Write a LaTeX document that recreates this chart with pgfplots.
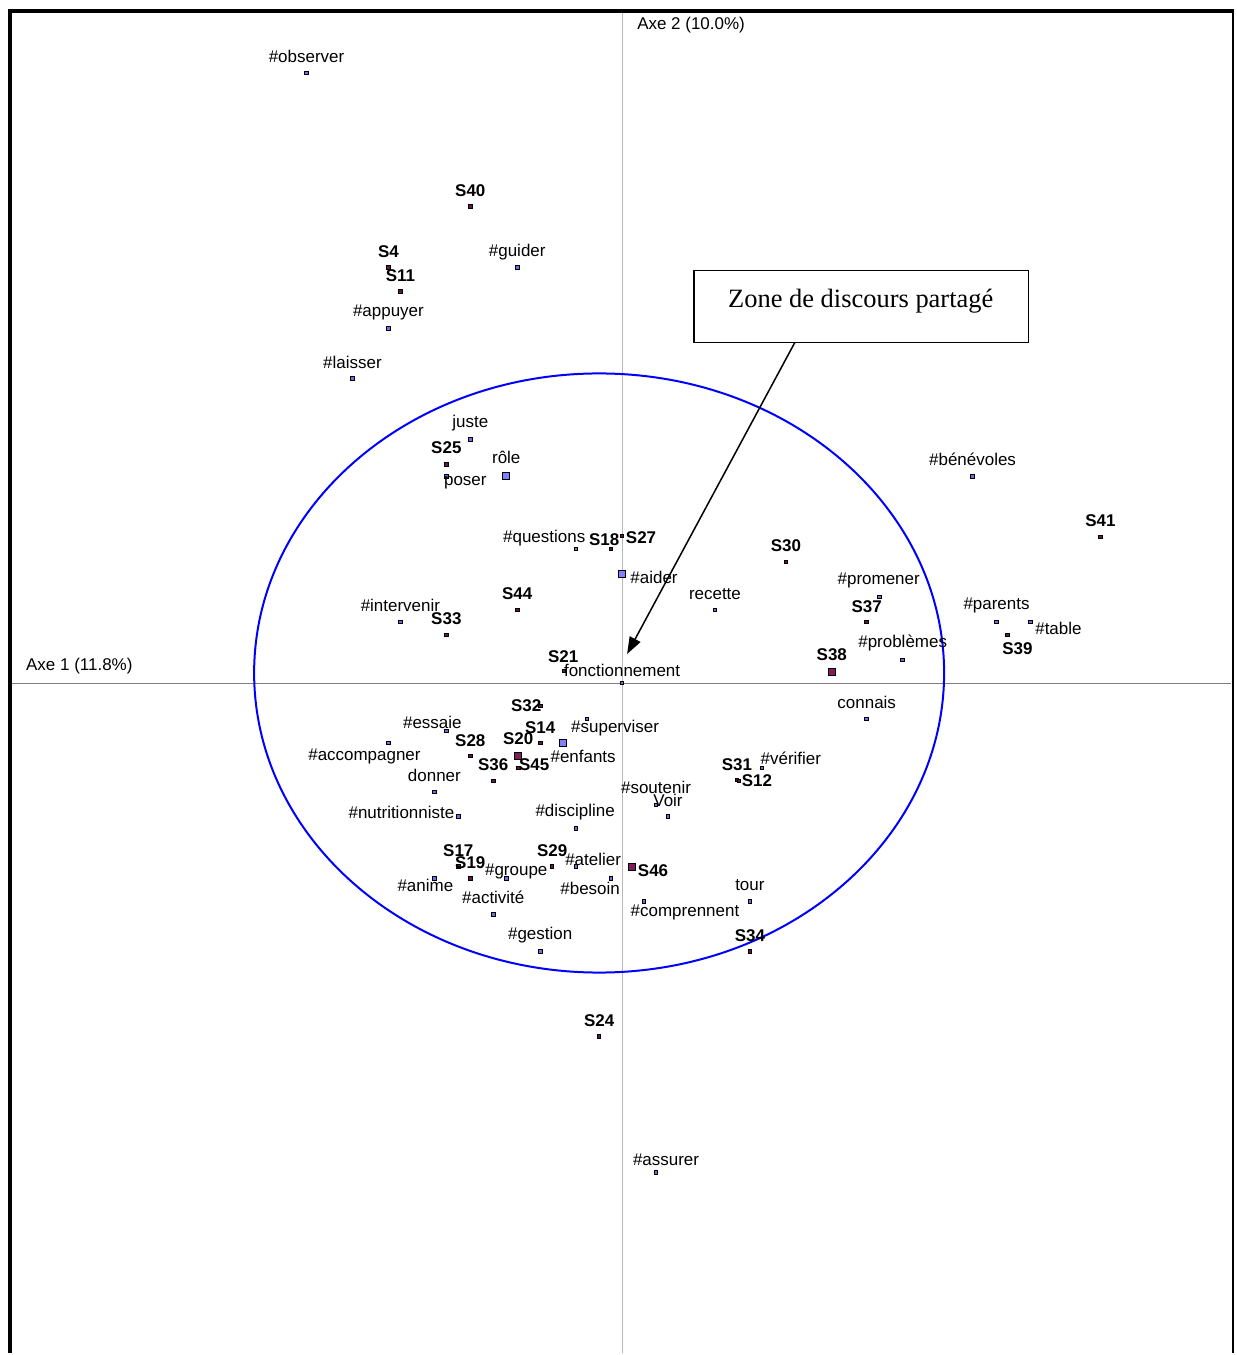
\documentclass[border=0pt]{standalone}
\usepackage{pgfplots}
\pgfplotsset{compat=1.18}
\usepackage{pgfplotstable}
\usepackage{fontspec}
\setmainfont{Liberation Sans}
\newfontfamily\zonefont{Liberation Serif}
\usetikzlibrary{arrows.meta}

\definecolor{wordfill}{RGB}{110,110,230}
\definecolor{subjfill}{RGB}{95,25,70}
\definecolor{bigblue}{RGB}{128,128,255}
\definecolor{bigred}{RGB}{125,30,90}

% Word forms: point (x,y) and label position (lx,ly)
\pgfplotstableread{
x y lx ly name
-316 612 -316 630 \#observer
-105 417 -105 434 \#guider
-234 356 -234 374 \#appuyer
-270 306 -270 324 \#laisser
-152 245 -152 263 juste
-176 208 -157 203 poser
-46 135 -78 148 \#questions
-222 62 -222 80 \#intervenir
0 1 0 15 fonctionnement
93 74 93 92 recette
258 87 257 105 \#promener
281 24 281 43 \#problèmes
351 208 351 226 \#bénévoles
375 62 375 80 \#parents
409 62 437 57 \#table
245 -35 245 -17 connais
-176 -47 -190 -37 \#essaie
-35 -35 -7 -43 \#superviser
-234 -59 -258 -71 \#accompagner
-188 -108 -188 -90 donner
-164 -133 -221 -127 \#nutritionniste
-46 -145 -47 -127 \#discipline
34 -121 34 -102 \#soutenir
46 -133 46 -115 Voir
-188 -195 -197 -200 \#anime
-116 -195 -106 -186 \#groupe
-46 -183 -29 -174 \#atelier
-11 -195 -32 -203 \#besoin
-129 -231 -129 -212 \#activité
-82 -268 -82 -250 \#gestion
22 -218 63 -227 \#comprennent
128 -218 128 -200 tour
140 -84 169 -73 \#vérifier
34 -489 44 -475 \#assurer
}\words

% Word forms with the larger symbol
\pgfplotstableread{
x y lx ly name
-116 208 -116 228 rôle
0 110 32 108 \#aider
-59 -59 -39 -71 \#enfants
}\bigwords

% Subjects
\pgfplotstableread{
x y lx ly name
-152 478 -152 496 S40
-234 417 -234 434 S4
-222 393 -222 410 S11
-176 220 -176 238 S25
-11 135 -18 146 S18
0 148 19 148 S27
-105 74 -105 92 S44
-176 49 -176 67 S33
-58 13 -59 29 S21
164 122 164 140 S30
245 62 245 79 S37
479 147 479 165 S41
386 49 396 37 S39
-82 -22 -96 -20 S32
-82 -59 -82 -42 S14
-152 -72 -152 -55 S28
-104 -84 -88 -79 S45
-129 -97 -129 -79 S36
-164 -183 -164 -165 S17
-152 -195 -152 -177 S19
-70 -183 -70 -165 S29
115 -96 115 -79 S31
117 -97 135 -95 S12
128 -268 128 -251 S34
-23 -353 -23 -336 S24
}\subjects

% Subjects with the larger symbol
\pgfplotstableread{
x y lx ly name
210 12 210 31 S38
-104 -72 -104 -53 S20
10 -183 31 -185 S46
}\bigsubjects

\begin{document}
\begin{tikzpicture}
\begin{axis}[
  scale only axis,
  width=1236pt, height=1355pt,
  xmin=-623, xmax=613, ymin=-670, ymax=685,
  axis line style={draw=none},
  ticks=none,
  clip=false,
  every node near coord/.append style={anchor=center, inner sep=0pt,
    yshift=-1.5pt, text=black, font=\fontsize{17}{20}\selectfont},
]
% frame
\draw[line width=4pt] (axis cs:-613,-670) -- (axis cs:-613,673.5);
\draw[line width=4pt] (axis cs:-615,673.5) -- (axis cs:613,673.5);
\draw[line width=2pt] (axis cs:611.5,675) -- (axis cs:611.5,-670);
% principal axes
\draw[color=black!28, line width=1pt] (axis cs:0,672) -- (axis cs:0,-670);
\draw[color=black!50, line width=1pt] (axis cs:-611,0.5) -- (axis cs:610,0.5);
\node[anchor=west, inner sep=0pt, font=\fontsize{17}{20}\selectfont] at (axis cs:15,659.5) {Axe 2 (10.0\%)};
\node[anchor=west, inner sep=0pt, font=\fontsize{17}{20}\selectfont] at (axis cs:-597,17.5) {Axe 1 (11.8\%)};
% shared zone
\draw[color=blue, line width=2pt] (axis cs:-23,11) ellipse [x radius=345.5, y radius=300];

% points
\addplot[only marks, mark=square*, mark size=1.8pt,
  mark options={draw=black, fill=wordfill, line width=1pt}]
  table[x=x, y=y] {\words};
\addplot[only marks, mark=square*, mark size=3.5pt,
  mark options={draw=black, fill=bigblue, line width=1pt}]
  table[x=x, y=y] {\bigwords};
\addplot[only marks, mark=square*, mark size=1.8pt,
  mark options={draw=black, fill=subjfill, line width=1pt}]
  table[x=x, y=y] {\subjects};
\addplot[only marks, mark=square*, mark size=3.5pt,
  mark options={draw=black, fill=bigred, line width=1pt}]
  table[x=x, y=y] {\bigsubjects};

% labels
\addplot[draw=none, mark=none, nodes near coords, point meta=explicit symbolic]
  table[x=lx, y=ly, meta=name] {\words};
\addplot[draw=none, mark=none, nodes near coords, point meta=explicit symbolic]
  table[x=lx, y=ly, meta=name] {\bigwords};
\addplot[draw=none, mark=none, nodes near coords, point meta=explicit symbolic,
  every node near coord/.append style={font=\fontsize{17}{20}\selectfont\bfseries}]
  table[x=lx, y=ly, meta=name] {\subjects};
\addplot[draw=none, mark=none, nodes near coords, point meta=explicit symbolic,
  every node near coord/.append style={font=\fontsize{17}{20}\selectfont\bfseries}]
  table[x=lx, y=ly, meta=name] {\bigsubjects};

% callout
\draw[line width=1.5pt, fill=white] (axis cs:72,414) rectangle (axis cs:407,342);
\node[font=\zonefont\fontsize{26.5}{30}\selectfont] at (axis cs:239,383) {Zone de discours partagé};
\draw[line width=1.5pt, -{Triangle[length=17pt, width=12pt]}] (axis cs:173,342) -- (axis cs:5,30);
\end{axis}
\end{tikzpicture}
\end{document}
